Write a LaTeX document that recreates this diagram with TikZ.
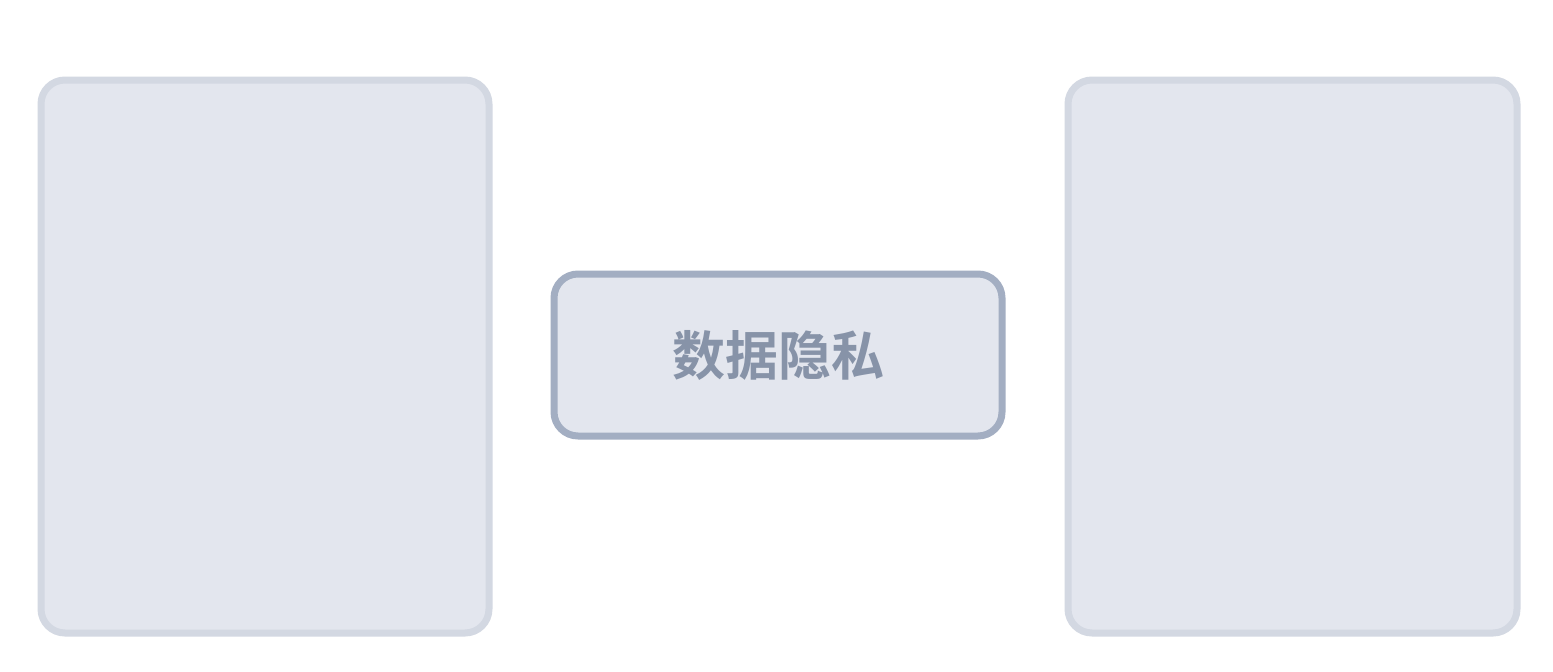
\documentclass[tikz,border=0pt]{standalone}
\usepackage{fontspec}
\newfontfamily\cjk{Noto Sans CJK SC Bold}
\definecolor{boxfill}{HTML}{E3E6EE}
\definecolor{sideedge}{HTML}{D3D8E2}
\definecolor{midedge}{HTML}{A3AEC2}
\definecolor{midtext}{HTML}{8793A8}
\tikzset{
  sidebox/.style={draw=sideedge, fill=boxfill, line width=7pt, rounded corners=24pt},
  midbox/.style={draw=midedge, fill=boxfill, line width=7pt, rounded corners=24pt, inner sep=0pt},
}
\begin{document}
\begin{tikzpicture}[x=1pt,y=-1pt]
\useasboundingbox[fill=white] (0,0) rectangle (1553,672);
\path[sidebox] (41,80) rectangle (489,633);
\path[sidebox] (1068,80) rectangle (1517,633);
\node[midbox, minimum width=448pt, minimum height=162pt, text=midtext, font=\cjk\fontsize{53}{60}\selectfont] (mid) at (778,355) {数据隐私};
\end{tikzpicture}
\end{document}
